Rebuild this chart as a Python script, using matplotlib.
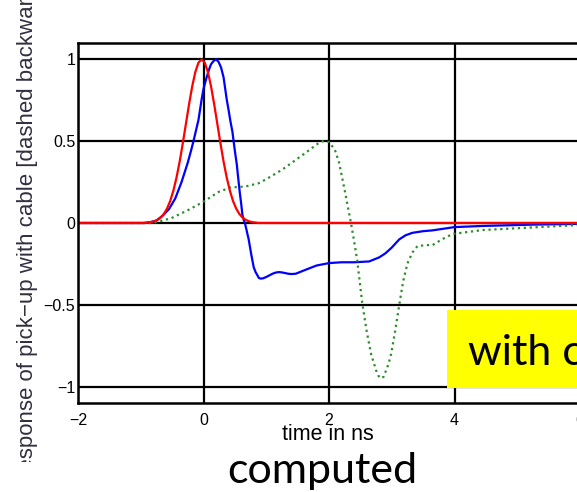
import numpy as np
import matplotlib
matplotlib.use("Agg")
import matplotlib.pyplot as plt
from matplotlib.patches import Rectangle

# readings (time in ns, normalised response)
t_red = [-2.0, -0.93, -0.83, -0.78, -0.73, -0.68, -0.63, -0.58, -0.53, -0.48, -0.43,
         -0.38, -0.33, -0.28, -0.23, -0.18, -0.13, -0.08, -0.03, 0.02, 0.07, 0.12,
         0.17, 0.22, 0.27, 0.32, 0.37, 0.42, 0.47, 0.52, 0.57, 0.62, 0.67, 0.72,
         0.77, 0.87, 6.0]
v_red = [0.0, 0.0, 0.006, 0.011, 0.02, 0.034, 0.056, 0.089, 0.135, 0.198, 0.278,
         0.375, 0.487, 0.607, 0.726, 0.835, 0.923, 0.98, 1.0, 0.98, 0.923, 0.835,
         0.726, 0.607, 0.487, 0.375, 0.278, 0.198, 0.135, 0.089, 0.056, 0.034,
         0.02, 0.011, 0.006, 0.0, 0.0]

t_blue = [-2.0, -0.95, -0.85, -0.75, -0.65, -0.55, -0.45, -0.35, -0.25, -0.2, -0.16,
          -0.12, -0.08, -0.03, 0.0, 0.05, 0.09, 0.12, 0.16, 0.2, 0.24, 0.28, 0.32,
          0.37, 0.4, 0.43, 0.46, 0.48, 0.5, 0.53, 0.56, 0.58, 0.6, 0.62, 0.64,
          0.66, 0.69, 0.72, 0.76, 0.8, 0.83, 0.86, 0.88, 0.91, 0.95, 1.0, 1.05,
          1.1, 1.15, 1.2, 1.25, 1.35, 1.4, 1.47, 1.6, 1.8, 2.0, 2.2, 2.4, 2.64,
          2.8, 2.9, 3.0, 3.12, 3.22, 3.33, 3.5, 3.65, 4.0, 4.45, 5.25, 6.0]
v_blue = [0.0, 0.0, 0.005, 0.015, 0.045, 0.085, 0.15, 0.25, 0.37, 0.44, 0.5,
          0.565, 0.63, 0.755, 0.82, 0.89, 0.94, 0.97, 0.99, 1.0, 0.985, 0.95, 0.89,
          0.755, 0.69, 0.62, 0.56, 0.5, 0.44, 0.36, 0.25, 0.18, 0.12, 0.05, 0.02,
          0.0, -0.05, -0.1, -0.19, -0.27, -0.30, -0.32, -0.335, -0.34, -0.338,
          -0.33, -0.32, -0.31, -0.303, -0.30, -0.302, -0.31, -0.312, -0.31, -0.29,
          -0.26, -0.245, -0.24, -0.24, -0.235, -0.21, -0.185, -0.15, -0.10, -0.075,
          -0.06, -0.05, -0.045, -0.025, -0.018, -0.01, -0.005]

t_green = [-2.0, -0.8, -0.51, -0.24, 0.0, 0.24, 0.43, 0.67, 0.88, 1.01, 1.25, 1.45,
           1.63, 1.84, 1.9, 1.95, 2.0, 2.05, 2.1, 2.16, 2.25, 2.3, 2.35, 2.4, 2.45,
           2.49, 2.53, 2.6, 2.67, 2.75, 2.79, 2.83, 2.87, 2.91, 2.95, 2.99, 3.05,
           3.12, 3.18, 3.25, 3.33, 3.41, 3.55, 3.65, 3.8, 3.97, 4.45, 5.25, 6.0]
v_green = [0.0, 0.0, 0.03, 0.08, 0.13, 0.19, 0.217, 0.223, 0.243, 0.27, 0.325, 0.38,
           0.43, 0.49, 0.5, 0.5, 0.495, 0.47, 0.44, 0.37, 0.2, 0.1, 0.0, -0.11,
           -0.23, -0.36, -0.49, -0.66, -0.8, -0.9, -0.935, -0.95, -0.94, -0.9,
           -0.86, -0.8, -0.67, -0.5, -0.36, -0.247, -0.18, -0.141, -0.135, -0.135,
           -0.1, -0.067, -0.043, -0.027, -0.012]

xticks = [-2, 0, 2, 4, 6]
yticks = [-1, -0.5, 0, 0.5, 1]
ytick_labels = ['\u22121', '\u22120.5', '0', '0.5', '1']
xtick_labels = ['\u22122', '0', '2', '4', '6']

plt.rcParams['font.family'] = ['Liberation Sans', 'DejaVu Sans']

fig = plt.figure(figsize=(5.77, 4.92), dpi=100)
ax = fig.add_axes([78/577, 89/492, 502/577, 360/492])

ax.plot(t_blue, v_blue, color='#0000ff', lw=1.6)
ax.plot(t_green, v_green, color='#2e8b2e', lw=1.6, ls=':')
ax.plot(t_red, v_red, color='#ff0000', lw=1.6)

ax.set_xlim(-2, 6)
ax.set_ylim(-1.1, 1.1)
ax.set_xticks(xticks)
ax.set_xticklabels(xtick_labels)
ax.set_yticks(yticks)
ax.set_yticklabels(ytick_labels)
ax.tick_params(axis='both', length=0, labelsize=11.5, colors='black')
ax.tick_params(axis='x', pad=7)
ax.tick_params(axis='y', pad=2)
ax.grid(True, color='black', lw=1.6)
ax.set_axisbelow(True)
for s in ax.spines.values():
    s.set_linewidth(1.8)

fig.text(328/577, 1 - 440/492, 'time in ns', ha='center', va='baseline',
         fontsize=15.5)
fig.text(28/577, 1 - 229/492,
         'response of pick\u2212up with cable [dashed backward]',
         rotation=90, ha='center', va='center', fontsize=16, color='#303040')

# slide overlays
fig.add_artist(Rectangle((0, 0), 0.12, 30/492, transform=fig.transFigure,
                         facecolor='white', edgecolor='none', zorder=5))
fig.add_artist(Rectangle((447/577, 1 - 388/492), 0.3, 78/492,
                         transform=fig.transFigure, facecolor='#ffff00',
                         edgecolor='none', zorder=5))
fig.text(468/577, 1 - 365/492, 'with c', ha='left', va='baseline',
         fontsize=31, family='Lato', zorder=6)
fig.text(322/577, 1 - 483/492, 'computed', ha='center', va='baseline',
         fontsize=31, family='Lato', zorder=6)

fig.savefig('out.png', dpi=100)
